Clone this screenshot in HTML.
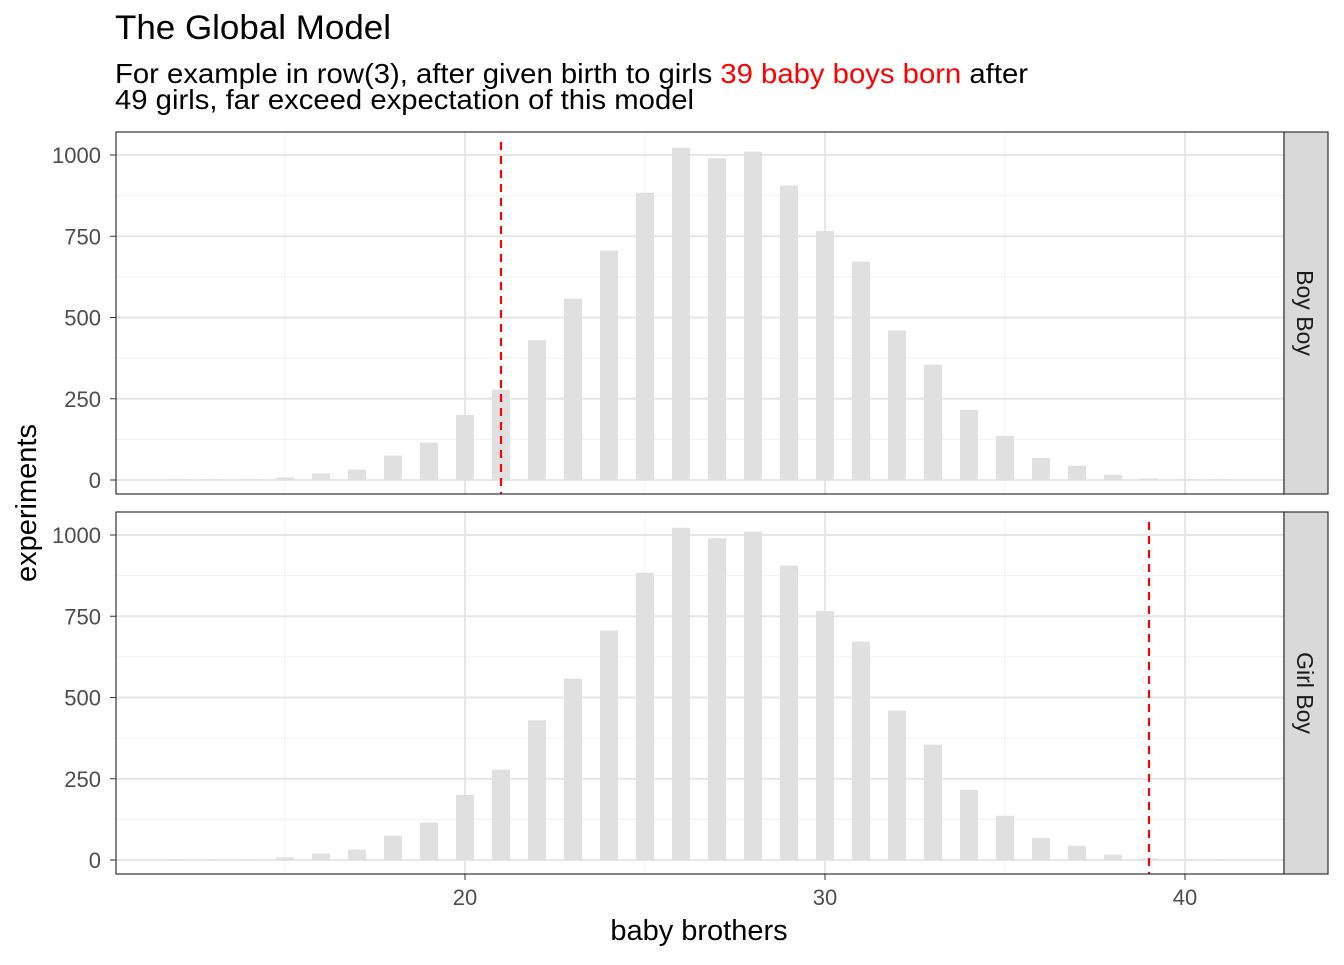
<!DOCTYPE html>
<html><head><meta charset="utf-8"><style>
body{margin:0;background:#fff;}
svg text{font-family:"Liberation Sans",Arial,sans-serif;}
</style></head><body>
<svg id="s" width="1344" height="960" xmlns="http://www.w3.org/2000/svg">
<rect width="1344" height="960" fill="#fff"/>
<text x="115" y="39" font-size="34" fill="#000" textLength="276" lengthAdjust="spacingAndGlyphs">The Global Model</text>
<text x="115" y="83" font-size="28" fill="#000" textLength="913" lengthAdjust="spacingAndGlyphs">For example in row(3), after given birth to girls <tspan fill="#ff0000">39 baby boys born</tspan> after</text>
<text x="115" y="109" font-size="28" fill="#000" textLength="579" lengthAdjust="spacingAndGlyphs">49 girls, far exceed expectation of this model</text>
<text x="699" y="940" font-size="29" text-anchor="middle">baby brothers</text>
<text transform="translate(36,503) rotate(-90)" font-size="29" text-anchor="middle">experiments</text>
<g id="g"></g>
</svg>
<script>
var vals={12:1,13:1,14:2,15:8,16:20,17:32,18:75,19:115,20:200,21:278,22:430,23:558,24:706,25:884,26:1022,27:990,28:1010,29:906,30:766,31:672,32:460,33:355,34:216,35:136,36:68,37:44,38:16,39:5,40:2,41:1};
var h='';
function X(v){return 465+(v-20)*36;}
[[132,480,21,'Boy Boy'],[512,860,39,'Girl Boy']].forEach(function(p){
 var top=p[0],y0=p[1],bot=top+362;
 function Y(v){return y0-v*0.325;}
 h+='<rect x="116" y="'+top+'" width="1168" height="362" fill="#fff"/>';
 [125,375,625,875].forEach(function(v){h+='<line x1="116" x2="1284" y1="'+Y(v)+'" y2="'+Y(v)+'" stroke="#f0f0f0" stroke-width="1"/>';});
 [15,25,35].forEach(function(v){h+='<line y1="'+top+'" y2="'+bot+'" x1="'+X(v)+'" x2="'+X(v)+'" stroke="#f0f0f0" stroke-width="1"/>';});
 [0,250,500,750,1000].forEach(function(v){h+='<line x1="116" x2="1284" y1="'+Y(v)+'" y2="'+Y(v)+'" stroke="#e6e6e6" stroke-width="2"/>';
  h+='<line x1="110" x2="116" y1="'+Y(v)+'" y2="'+Y(v)+'" stroke="#333" stroke-width="1"/>';
  h+='<text x="101" y="'+(Y(v)+8)+'" font-size="22" fill="#4d4d4d" text-anchor="end">'+v+'</text>';});
 [20,30,40].forEach(function(v){h+='<line y1="'+top+'" y2="'+bot+'" x1="'+X(v)+'" x2="'+X(v)+'" stroke="#e6e6e6" stroke-width="2"/>';});
 for(var k in vals){var v=vals[k];h+='<rect x="'+(X(+k)-9)+'" y="'+Y(v)+'" width="18" height="'+(v*0.325)+'" fill="#e0e0e0"/>';}
 h+='<line x1="'+X(p[2])+'" x2="'+X(p[2])+'" y1="'+(top+10)+'" y2="'+bot+'" stroke="#ff0000" stroke-width="2.2" stroke-dasharray="8,6"/>';
 h+='<rect x="116" y="'+top+'" width="1168" height="362" fill="none" stroke="#333" stroke-width="1.2"/>';
 h+='<rect x="1284" y="'+top+'" width="44" height="362" fill="#d9d9d9" stroke="#333" stroke-width="1.2"/>';
 h+='<text transform="translate(1297,'+(top+181)+') rotate(90)" font-size="23" fill="#1a1a1a" text-anchor="middle">'+p[3]+'</text>';
});
[20,30,40].forEach(function(v){h+='<line y1="874" y2="880" x1="'+X(v)+'" x2="'+X(v)+'" stroke="#333"/>';
 h+='<text x="'+X(v)+'" y="905" font-size="22" fill="#4d4d4d" text-anchor="middle">'+v+'</text>';});
document.getElementById('g').innerHTML=h;
</script>
</body></html>
